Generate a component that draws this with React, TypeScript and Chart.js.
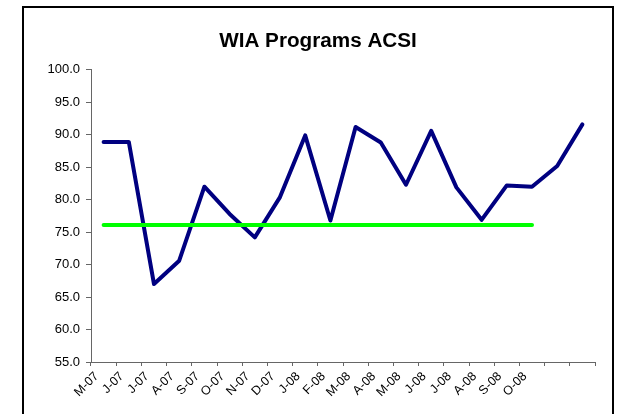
import React, { useEffect, useRef } from 'react';
import { Chart, registerables } from 'chart.js';

Chart.register(...registerables);

const months = ['M-07', 'J-07', 'J-07', 'A-07', 'S-07', 'O-07', 'N-07', 'D-07', 'J-08', 'F-08', 'M-08', 'A-08', 'M-08', 'J-08', 'J-08', 'A-08', 'S-08', 'O-08', '', ''];
const acsi = [88.9, 88.9, 67.0, 70.6, 82.0, 77.8, 74.2, 80.4, 89.9, 76.8, 91.2, 88.8, 82.3, 90.6, 81.9, 76.9, 82.2, 82.0, 85.2, 91.6];
const target = [76.1, 76.1, 76.1, 76.1, 76.1, 76.1, 76.1, 76.1, 76.1, 76.1, 76.1, 76.1, 76.1, 76.1, 76.1, 76.1, 76.1, 76.1, null, null];
const yMin = 55;
const yMax = 100;
const yStep = 5;
const title = 'WIA Programs ACSI';

const FONT = "'Liberation Sans', Arial, sans-serif";

export default function App() {
  const ref = useRef<HTMLCanvasElement>(null);
  useEffect(() => {
    const chart = new Chart(ref.current as HTMLCanvasElement, {
      type: 'line',
      data: {
        labels: months,
        datasets: [
          {
            label: 'Target',
            data: target,
            borderColor: '#00FF00',
            backgroundColor: '#00FF00',
            borderWidth: 4,
            pointRadius: 0,
            tension: 0,
            borderCapStyle: 'round',
            borderJoinStyle: 'round',
          },
          {
            label: 'ACSI',
            data: acsi,
            borderColor: '#000080',
            backgroundColor: '#000080',
            borderWidth: 4,
            pointRadius: 0,
            tension: 0,
            borderCapStyle: 'round',
            borderJoinStyle: 'round',
          },
        ],
      },
      options: {
        responsive: false,
        maintainAspectRatio: false,
        animation: false,
        layout: { padding: { left: 41, right: 23, top: 0, bottom: 0 } },
        plugins: {
          legend: { display: false },
          tooltip: { enabled: false },
          title: {
            display: true,
            text: title,
            color: '#000',
            font: { family: FONT, size: 20.7, weight: 'bold' },
            padding: { top: 29, bottom: 16 },
          },
        },
        scales: {
          x: {
            offset: true,
            grid: { offset: true, drawOnChartArea: false, tickLength: 4, color: '#666' },
            border: { color: '#666', width: 1 },
            ticks: {
              autoSkip: false,
              minRotation: 45,
              maxRotation: 45,
              color: '#000',
              padding: 3,
              labelOffset: -7,
              font: { family: FONT, size: 12.5 },
            },
            afterFit: (s: any) => {
              s.height = 52;
            },
          },
          y: {
            min: yMin,
            max: yMax,
            grid: { drawOnChartArea: false, tickLength: 5, color: '#666' },
            border: { color: '#666', width: 1 },
            ticks: {
              stepSize: yStep,
              color: '#000',
              padding: 6,
              font: { family: FONT, size: 13 },
              callback: (v: any) => Number(v).toFixed(1),
            },
            afterFit: (s: any) => {
              s.width = 50;
            },
          },
        },
      },
    });
    return () => chart.destroy();
  }, []);

  return (
    <>
      <canvas
        ref={ref}
        width={618}
        height={414}
        style={{ position: 'absolute', left: 0, top: 0, width: 618, height: 414 }}
      />
      <div
        style={{
          position: 'absolute',
          left: 22,
          top: 6,
          width: 592,
          height: 408,
          borderTop: '2px solid #000',
          borderLeft: '2px solid #000',
          borderRight: '2px solid #000',
          borderBottom: 'none',
          boxSizing: 'border-box',
          pointerEvents: 'none',
        }}
      />
    </>
  );
}
